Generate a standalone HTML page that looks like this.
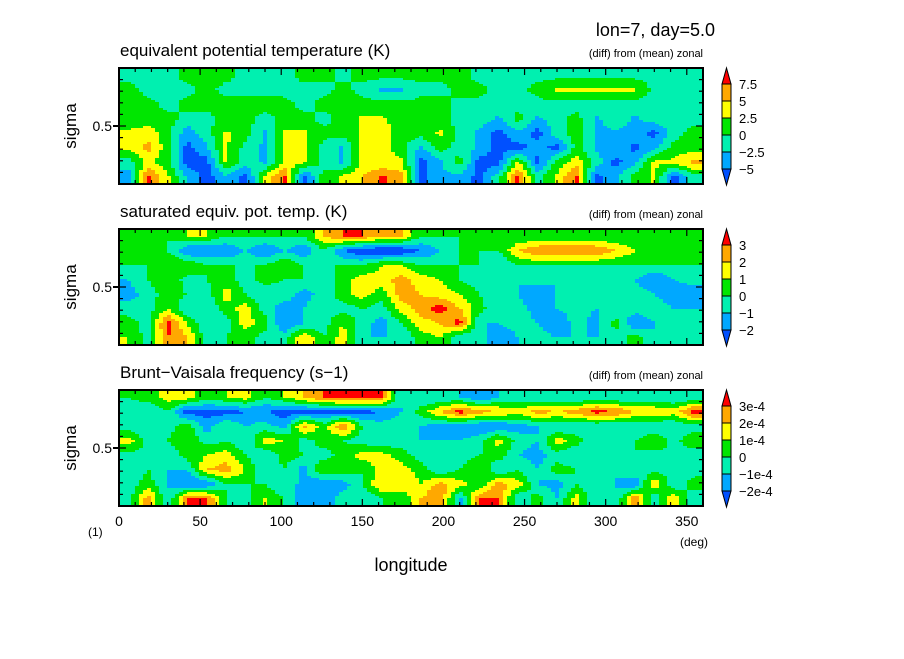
<!DOCTYPE html>
<html><head><meta charset="utf-8"><style>
body{margin:0;background:#fff;}
svg text{font-family:"Liberation Sans","DejaVu Sans",sans-serif;fill:#000;}
</style></head><body>
<svg id="fig" width="904" height="654" viewBox="0 0 904 654" xmlns="http://www.w3.org/2000/svg">
<rect width="904" height="654" fill="#fff"/>
<text x="715" y="36" font-size="18" text-anchor="end">lon=7, day=5.0</text>
<text x="411" y="571" font-size="18" text-anchor="middle">longitude</text>
<text x="680" y="546" font-size="12">(deg)</text>
<text x="88" y="536" font-size="12">(1)</text>
<g id="panels"></g>
</svg>
<script>
const colors=["#0050ff","#00a8ff","#00f0b0","#00e600","#ffff00","#ffa800","#ff0000"];
const p1Levels=[-5,-2.5,0,2.5,5,7.5];
const p1Labels=["7.5","5","2.5","0","\u22122.5","\u22125"];
const p2Levels=[-2,-1,0,1,2,3];
const p2Labels=["3","2","1","0","\u22121","\u22122"];
const p3Levels=[-2,-1,0,1,2,3];
const p3Labels=["3e-4","2e-4","1e-4","0","\u22121e-4","\u22122e-4"];
const xTicks=[0,50,100,150,200,250,300,350];
const p1Grid=[
[-1,-1,-1,1,1,1,-1,-1,-1,1,1,-1,1,1,1,1,1,1,-1,-1,-1,-1,-1,-1,-1,-1,-1,-1,-1,-1],
[1,-1,-1,-1,1,-1,-1,-1,-1,-1,-1,1,-1,-3,-3,-1,-1,1,1,-1,-1,1,3,3,3,3,3,-1,-1,-1],
[1,1,-1,1,1,1,1,1,1,-1,1,1,1,1,1,1,1,-1,-1,-1,-1,-1,-1,-1,-1,-1,-1,-1,-1,-1],
[1,1,1,-1,-1,1,1,-1,1,1,-1,1,3,3,1,1,1,-1,-1,-3,1,-3,-1,1,-3,-1,-3,-1,-1,-1],
[3,4,1,-4,-1,3,1,-3,3,3,1,1,3,4,1,1,3,-1,-3,-6,-3,-6,-1,1,-3,-3,-3,-6,-1,1],
[3,6,1,-6,-3,3,-1,-3,3,3,-1,-3,3,4,1,-3,1,-1,-3,-6,-6,-4,-6,1,-3,-3,-6,-3,1,1],
[-1,3,1,-6,-6,3,-1,-3,3,3,-1,-3,3,3,3,-6,-3,1,-6,-6,3,-6,1,4,-1,-6,-3,3,3,6],
[-4,8,3,-3,-6,-3,-6,3,8,-6,1,3,5,8,6,-6,-3,-3,-6,-1,8,-1,3,8,-6,-3,1,3,-6,-1]];
const p2Grid=[
[0,0,0,1,1,0,0,0,0,0,2,3,3,2,2,0,0,0,0,0,0,0,0,0,0,0,0,0,0,0],
[0,0,0,-2,-2,-2,-1,-2,-1,-2,0,-2,-3,-3,-3,-2,-1,0,0,0,2,3,3,3,3,2,1,0,0,1],
[0,0,1,1,0,0,0,0,1,0,0,0,0,1,1,0,0,0,0,-1,0,0,0,0,0,0,0,0,0,0],
[-1,0,1,-0.5,0,0.5,-0.5,0.5,0,0,-0.5,0.5,1.5,1.5,2.5,1.5,1,0,-0.5,-1,-1,-0.5,-1,-0.5,-1,-0.5,-1,-2,-1,-0.5],
[-1.5,-0.5,0.5,0,-0.5,1.5,0,-1,-0.5,-1.5,-0.5,0.5,1.5,0.5,2.5,2,1.5,1,0,-1,-1,-2,-1,-0.5,-1,-0.5,-0.5,-1,-1.5,-2],
[-0.5,-0.5,1,-1,-1,0.5,1.5,-0.5,-1.5,-1,0,-0.5,0,-0.5,1.5,2.5,3.5,2,0.5,-1,-0.5,-1.5,-1,-0.5,-1,-1,-0.5,-0.5,-1,-1],
[0.5,-0.5,3.5,1,-1,-0.5,1.5,0.5,-2,-1,-0.5,1,-0.5,-1.5,0,1.5,2,3.5,-1,-1,-0.5,-1,-2,-0.5,-1.5,0.5,-2,-1,0,-0.5],
[1,-0.5,3,2,-0.5,0,0.5,-0.5,-0.5,2,0,1.5,-1,-1,-1,0.5,1,-1,-0.5,-2,-1,-0.5,-1,-1,-1,-0.5,0.5,-1,-1,-1]];
const p3Grid=[
[0,0.5,1.5,1.5,0.5,1,1.5,0,1,2,3,3.5,3.5,3,-1,-1,-1,-1,-2,-1,-1,-1,-1,-1,-1,-1,-1,-1,-1,-1],
[-0.5,-1,0,-2.5,-2.5,-2.5,-2,-2,-2.5,-2.5,-2.5,-2.5,-2.5,-2,-1,0.5,2,3.5,2.5,2,1.5,2.5,2,2.5,3.5,3,2,2,1.5,3.5],
[-0.5,-1,-0.5,0.5,-1.5,0,-1,-0.5,-1.5,2.5,0.5,3,0,-0.5,-0.5,-1,-1.5,-1.5,-2,-2,-1.5,-1,-1,-1,-1,-1,-1,-1,-1,-0.5],
[1.5,-0.5,0,1,-0.5,0,-1,1.5,1,-0.5,0.5,0,-0.5,-1,-0.5,-1,-1,-1,-0.5,1.5,-0.5,-1,1.5,0.5,-1,-0.5,0,1,-0.5,1],
[-0.5,0,-1,0.5,1,1.5,0,-1,0.5,0,-0.5,0.5,1.5,1.5,0.5,-0.5,-1,-0.5,0,0.5,-1,-1.5,-0.5,-1,-0.5,-0.5,0,-0.5,0,-1],
[-1,0,-1,-1,2,2.5,1,-1,0,-1.5,1,0.5,0,1.5,1.5,0.5,-1,0,1,-1,0,-1,0.5,0,-0.5,-1,0,-0.5,0,-0.5],
[-0.5,0.5,-1,-2,-2,0,0,0,-1,-1,-2,-1.5,0,2,2,1,2.5,1.5,0,2.5,1.5,-1,-1.5,0,-1,-1,-2,2,-1,0.5],
[-0.5,2.5,-1,3,3,0,-0.5,1,0,-2,-1.5,-0.5,-1,0,0,2,3,-1.5,3,3,-1,0.5,-1,1.5,-1,-1,3,-1,2,-1]];

const NS="http://www.w3.org/2000/svg";
const X0=119,X1=703,W=X1-X0,H=116;
function xScale(lon){return X0+lon/360*W;}
function mk(tag,attrs,parent){const e=document.createElementNS(NS,tag);for(const k in attrs)e.setAttribute(k,attrs[k]);parent.appendChild(e);return e;}
function sample(g,fx,fy){
  const nr=g.length,nc=g[0].length;
  let cx=fx*nc-0.5,cy=fy*nr-0.5;
  cx=Math.max(0,Math.min(nc-1,cx));cy=Math.max(0,Math.min(nr-1,cy));
  const i0=Math.floor(cx),j0=Math.floor(cy),i1=Math.min(nc-1,i0+1),j1=Math.min(nr-1,j0+1);
  const tx=cx-i0,ty=cy-j0;
  const a=g[j0][i0]*(1-tx)+g[j0][i1]*tx,b=g[j1][i0]*(1-tx)+g[j1][i1]*tx;
  return a*(1-ty)+b*ty;
}
function level(v,lv){let k=0;while(k<lv.length&&v>=lv[k])k++;return k;}
const panels=[
 {y:68,grid:p1Grid,lv:p1Levels,lab:p1Labels,title:"equivalent potential temperature (K)",name:"ept"},
 {y:229,grid:p2Grid,lv:p2Levels,lab:p2Labels,title:"saturated equiv. pot. temp. (K)",name:"sept"},
 {y:390,grid:p3Grid,lv:p3Levels,lab:p3Labels,title:"Brunt\u2212Vaisala frequency (s\u22121)",name:"bv"}];
const root=document.getElementById('panels');
panels.forEach((p,pi)=>{
  const g=mk('g',{},root);
  
  
  const t=mk('text',{x:120,y:p.y-12,'font-size':17},g);t.textContent=p.title;
  
  
  const s=mk('text',{x:X1,y:p.y-11,'font-size':11,'text-anchor':'end'},g);s.textContent="(diff) from (mean) zonal";
  
  
  const hm=mk('g',{'shape-rendering':'crispEdges'},g);
  
  
  const NX=146,NY=58,dx=W/NX,dy=H/NY;
  for(let r=0;r<NY;r++){
    let start=0,cur=level(sample(p.grid,(0.5)/NX,(r+0.5)/NY),p.lv);
    for(let c=1;c<=NX;c++){
      const k=c<NX?level(sample(p.grid,(c+0.5)/NX,(r+0.5)/NY),p.lv):-1;
      if(k!==cur){
        const rect=mk('rect',{x:X0+start*dx,y:p.y+r*dy,width:(c-start)*dx+0.3,height:dy+0.3,fill:colors[cur]},hm);
        
        
        start=c;cur=k;
      }
    }
  }
  const ax=mk('g',{stroke:'#000','stroke-width':1.2},g);
  
  
  mk('rect',{x:X0,y:p.y,width:W,height:H,fill:'none','stroke-width':2},ax);
  for(let lon=0;lon<=360;lon+=10){
    const x=xScale(lon),L=lon%50===0?7:4;
    mk('line',{x1:x,x2:x,y1:p.y,y2:p.y+L},ax);
    mk('line',{x1:x,x2:x,y1:p.y+H,y2:p.y+H-L},ax);
  }
  for(let k=1;k<10;k++){
    const y=p.y+k*H/10,L=k===5?7:4;
    mk('line',{x1:X0,x2:X0+L,y1:y,y2:y},ax);
    mk('line',{x1:X1,x2:X1-L,y1:y,y2:y},ax);
    if(k===5)mk('line',{x1:X0-6,x2:X0,y1:y,y2:y,'stroke-width':2},ax);
  }
  const yl=mk('text',{x:112,y:p.y+H/2+5,'font-size':14,'text-anchor':'end'},g);yl.textContent="0.5";
  
  
  const yt=mk('text',{x:76,y:p.y+H/2,'font-size':17,'text-anchor':'middle',transform:`rotate(-90 76 ${p.y+H/2})`},g);yt.textContent="sigma";
  
  
  const cb=mk('g',{},g);
  
  
  const bx=722,bw=9,top=p.y+16,seg=17;
  mk('polygon',{points:`${bx},${top} ${bx+bw},${top} ${bx+bw/2},${p.y}`,fill:colors[6],stroke:'#000'},cb);
  for(let k=0;k<5;k++)mk('rect',{x:bx,y:top+k*seg,width:bw,height:seg,fill:colors[5-k],stroke:'#000'},cb);
  const bot=top+5*seg;
  mk('polygon',{points:`${bx},${bot} ${bx+bw},${bot} ${bx+bw/2},${bot+16}`,fill:colors[0],stroke:'#000'},cb);
  p.lab.forEach((l,k)=>{const tl=mk('text',{x:739,y:top+k*seg+5,'font-size':13},cb);tl.textContent=l;
    
    });
  if(pi===2){
    xTicks.forEach(v=>{const tx=mk('text',{x:xScale(v),y:p.y+H+20,'font-size':14,'text-anchor':'middle'},g);tx.textContent=v;
      
      });
  }
});
</script>
</body></html>
